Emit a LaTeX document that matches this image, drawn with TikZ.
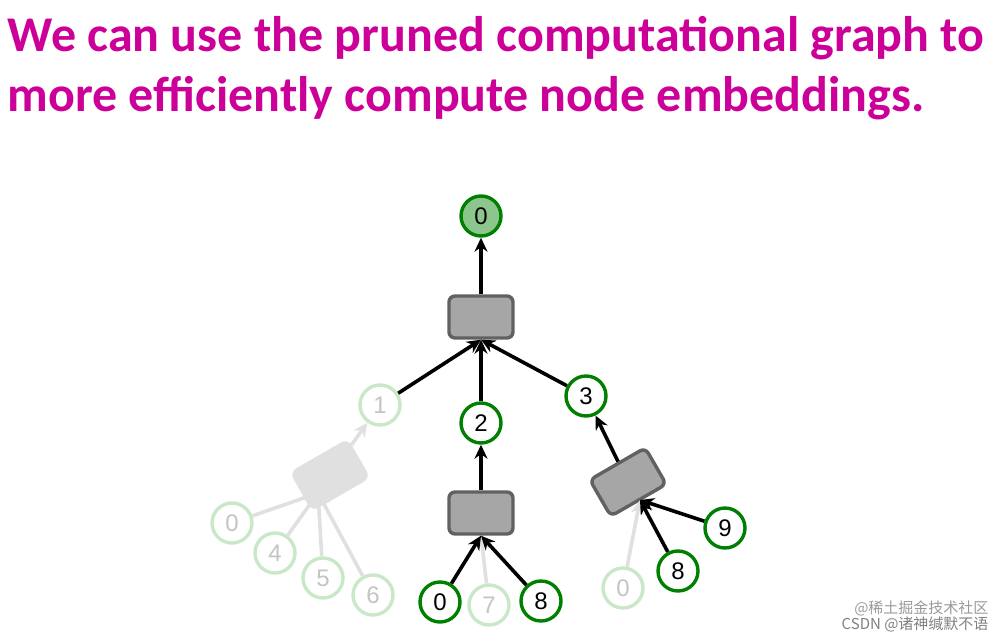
\documentclass[tikz,border=0pt]{standalone}
\usepackage{fontspec}
\setmainfont{Liberation Sans}
\newfontfamily\titlefont{Carlito}
\newfontfamily\cjk{Noto Sans CJK SC}
\usetikzlibrary{arrows.meta}
\definecolor{mag}{HTML}{CC0099}
\definecolor{dg}{HTML}{008000}
\definecolor{fg}{HTML}{C8E8C8}
\definecolor{ft}{HTML}{C4C4C4}
\begin{document}
\begin{tikzpicture}[x=1pt,y=-1pt,
  nd/.style={circle,draw=dg,line width=3.4pt,fill=white,minimum size=40pt,inner sep=0pt,font=\fontsize{24}{24}\selectfont},
  fnd/.style={nd,draw=fg,text=ft},
  bx/.style={rounded corners=6pt,draw=black!62,line width=3.4pt,fill=black!35,minimum width=64pt,minimum height=42pt},
  fbx/.style={bx,draw=black!12,fill=black!12},
  ed/.style={line width=3.6pt,-{Stealth[length=14pt,width=13pt]}},
  fed/.style={ed,draw=black!12}]
\useasboundingbox (0,0) rectangle (1006,640);
\node[anchor=west,text=mag,font=\titlefont\bfseries\fontsize{50}{50}\selectfont] (t1) at (4,38) {We can use the pruned computational graph to};
\node[anchor=west,text=mag,font=\titlefont\bfseries\fontsize{50}{50}\selectfont] (t2) at (4,98) {more efficiently compute node embeddings.};
% boxes
\node[bx] (B) at (481,317) {};
\node[bx] (M) at (481,513) {};
\node[bx,rotate=30] (R) at (628,482) {};
\node[fbx,rotate=30] (L) at (330,475) {};
% nodes
\node[nd,fill=dg!45] (r0) at (481,216) {0};
\node[fnd] (n1) at (380,405) {1};
\node[nd] (n2) at (481,423) {2};
\node[nd] (n3) at (586,396) {3};
\node[fnd] (a0) at (232,523) {0};
\node[fnd] (a4) at (275,553) {4};
\node[fnd] (a5) at (323,578) {5};
\node[fnd] (a6) at (373,595) {6};
\node[nd] (b0) at (440,602) {0};
\node[fnd] (b7) at (489,605) {7};
\node[nd] (b8) at (541,601) {8};
\node[fnd] (c0) at (623,588) {0};
\node[nd] (c8) at (678,571) {8};
\node[nd] (c9) at (725,528) {9};
% edges
\draw[ed] (B) -- (r0);
\draw[ed] (n1) -- (B.south);
\draw[ed] (n2) -- (B.south);
\draw[ed] (n3) -- (B.south);
\draw[ed] (M) -- (n2);
\draw[ed] (R) -- (n3);
\draw[fed] (L) -- (n1);
\coordinate (lp) at (318,493);
\draw[fed] (a0) -- (lp);
\draw[fed] (a4) -- (lp);
\draw[fed] (a5) -- (lp);
\draw[fed] (a6) -- (lp);
\draw[fed] (b7) -- (M.south);
\draw[ed] (b0) -- (M.south);
\draw[ed] (b8) -- (M.south);
\coordinate (rp) at (640,500);
\draw[fed] (c0) -- (rp);
\draw[ed] (c8) -- (rp);
\draw[ed] (c9) -- (rp);
\node[anchor=east,text=black!40,font=\cjk\fontsize{15}{15}\selectfont] (w1) at (992,608) {@稀土掘金技术社区};
\node[anchor=east,text=black!50,font=\cjk\fontsize{15}{15}\selectfont] (w2) at (992,624) {CSDN @诸神缄默不语};
\end{tikzpicture}
\end{document}
